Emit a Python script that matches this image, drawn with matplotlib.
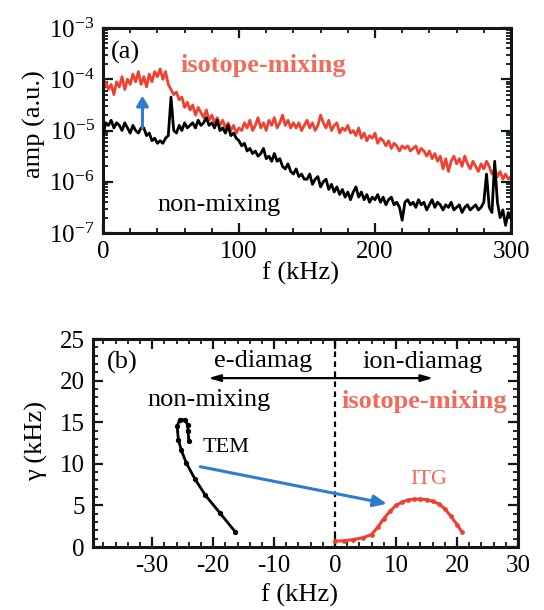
import numpy as np
import matplotlib
matplotlib.use("Agg")
import matplotlib.pyplot as plt
from matplotlib.ticker import MultipleLocator, FixedLocator, FuncFormatter, LogLocator, NullFormatter

plt.rcParams['font.family'] = ['Liberation Serif', 'DejaVu Serif']
plt.rcParams['mathtext.fontset'] = 'custom'
plt.rcParams['mathtext.rm'] = 'Liberation Serif'
plt.rcParams['mathtext.it'] = 'Liberation Serif:italic'
plt.rcParams['axes.unicode_minus'] = False

# ---------------- Panel (a) data: spectra, log10 amplitude, 2 kHz steps ----
freq_a = np.arange(0, 301, 2)
red_log = [
    -4.25, -4.05, -4.20, -4.10, -4.30, -4.05, -4.15, -3.95, -4.20, -4.00, -4.10,
    -3.90, -4.05, -3.85, -4.10, -3.95, -4.15, -3.90, -4.05, -3.85, -3.95,
    -3.80, -4.00, -3.85, -4.10, -4.20, -4.30, -4.25, -4.40, -4.35, -4.55,
    -4.45, -4.60, -4.50, -4.70, -4.55, -4.65, -4.75, -4.60, -4.80, -4.70,
    -4.85, -4.75, -4.90, -4.80, -4.95, -4.85, -5.00, -4.90, -5.05, -4.95,
    -5.00, -4.85, -4.95, -4.80, -5.00, -4.90, -4.75, -4.95, -4.85, -5.00,
    -4.80, -4.90, -4.75, -4.95, -4.85, -4.70, -4.90, -4.80, -4.95, -4.85,
    -4.95, -4.85, -5.00, -4.90, -4.80, -4.95, -4.85, -5.00, -4.90, -4.70,
    -4.85, -4.95, -4.80, -5.00, -4.90, -4.85, -5.05, -4.95, -5.00, -4.90,
    -5.05, -5.00, -5.10, -4.95, -5.15, -5.05, -5.20, -5.10, -5.15, -5.05,
    -5.25, -5.15, -5.20, -5.30, -5.20, -5.35, -5.25, -5.30, -5.40, -5.30,
    -5.35, -5.30, -5.40, -5.35, -5.30, -5.45, -5.35, -5.40, -5.50, -5.40,
    -5.55, -5.45, -5.60, -5.50, -5.75, -5.55, -5.80, -5.60, -5.50, -5.65,
    -5.55, -5.70, -5.50, -5.65, -5.75, -5.60, -5.70, -5.80, -5.65, -5.75,
    -5.60, -5.70, -5.85, -5.75, -5.90, -5.80, -5.95, -5.85, -5.95, -5.90,
]
black_log = [
    -5.10, -4.85, -4.90, -4.80, -4.95, -4.85, -4.90, -5.00, -4.85, -4.95,
    -5.05, -4.90, -5.00, -5.05, -4.95,
    -4.95, -5.10, -5.05, -5.20, -5.15, -5.25, -5.20, -5.25, -5.15, -5.10,
    -4.35, -5.00,
    -5.05, -4.90, -5.00, -4.85, -4.95, -4.90, -4.85, -4.95, -4.80, -4.90,
    -4.85, -4.75, -4.90, -4.85, -4.95, -4.80, -5.00, -4.95, -5.05, -4.90,
    -5.10, -5.05, -5.15,
    -5.20, -5.30, -5.25, -5.40, -5.35, -5.45, -5.40, -5.50, -5.45, -5.35,
    -5.55, -5.50, -5.60, -5.45, -5.60, -5.55, -5.70, -5.75, -5.65, -5.80,
    -5.85, -5.75, -5.90, -5.85, -5.95,
    -5.95, -5.85, -6.05, -5.95, -5.90, -6.10, -6.00, -5.95, -6.15, -6.05,
    -6.20, -6.10, -6.25, -6.15, -6.30, -6.20, -6.35, -6.20, -6.10, -6.30,
    -6.20, -6.35, -6.25, -6.40, -6.30,
    -6.35, -6.25, -6.40, -6.30, -6.45, -6.35, -6.30, -6.45, -6.40, -6.50,
    -6.75, -6.40, -6.35, -6.45, -6.40, -6.50, -6.35, -6.45, -6.40, -6.55,
    -6.45, -6.35, -6.50, -6.40, -6.45,
    -6.55, -6.45, -6.50, -6.40, -6.55, -6.50, -6.45, -6.60, -6.50, -6.45,
    -6.55, -6.50, -6.45, -6.55, -6.50,
    -6.40, -5.85, -6.50, -6.60, -5.60, -6.40, -6.70, -6.55, -6.85, -6.60,
    -6.70,
]
amp_red = 10.0 ** np.array(red_log)
amp_black = 10.0 ** np.array(black_log)

# ---------------- Panel (b) data: growth rate vs real frequency ----------
tem_f = [-16.4, -18.9, -21.3, -23.0, -24.4, -25.2, -25.7, -25.9, -25.5, -24.6, -24.2, -24.1, -24.0]
tem_g = [1.85, 4.1, 6.25, 8.2, 10.1, 11.6, 12.9, 14.5, 15.3, 15.3, 14.7, 13.9, 12.8]
itg_f = [0.0, 1.5, 3.0, 4.5, 6.0, 7.0, 8.0, 9.0, 10.0, 11.0, 12.0, 13.0, 14.0, 15.0, 16.0, 17.0, 18.0, 19.0, 20.0, 20.8]
itg_g = [0.7, 0.75, 0.9, 1.1, 1.5, 2.4, 3.4, 4.3, 5.0, 5.4, 5.65, 5.75, 5.75, 5.7, 5.5, 5.2, 4.6, 3.7, 2.7, 1.8]

RED = '#f0402f'
TRED = '#f26a5c'
BLUE = '#2f7bd0'
SPINE = '#101818'
FS_TICK = 18
FS_TXT = 19

fig = plt.figure(figsize=(5.44, 6.10), dpi=100)

def style(ax):
    for s in ax.spines.values():
        s.set_linewidth(2.2)
        s.set_color(SPINE)
    ax.tick_params(which='both', direction='in', top=True, right=True,
                   color=SPINE, labelsize=FS_TICK)
    ax.tick_params(which='major', length=7, width=1.6, pad=6)
    ax.tick_params(which='minor', length=3.5, width=1.3)

# ---- (a)
axa = fig.add_axes([103/544, 1-233/610, 408/544, 205/610])
axa.plot(freq_a, amp_red, color=RED, lw=2.0, zorder=2)
axa.plot(freq_a, amp_black, color='black', lw=2.0, zorder=3)
axa.set_yscale('log')
axa.set_xlim(0, 300)
axa.set_ylim(1e-7, 1e-3)
axa.xaxis.set_major_locator(MultipleLocator(100))
axa.xaxis.set_minor_locator(MultipleLocator(20))
axa.yaxis.set_major_locator(LogLocator(base=10, numticks=10))
axa.yaxis.set_minor_locator(LogLocator(base=10, subs=np.arange(2, 10), numticks=20))
axa.yaxis.set_minor_formatter(NullFormatter())
axa.yaxis.set_major_formatter(FuncFormatter(lambda v, p: r'$10^{%d}$' % int(round(np.log10(v)))))
style(axa)
axa.set_xlabel('f (kHz)', fontsize=FS_TXT)
axa.set_ylabel('amp (a.u.)', fontsize=FS_TXT)
axa.xaxis.set_label_coords(0.483, -0.14)
axa.yaxis.set_label_coords(-0.14, 0.53)
axa.text(16.7, 10**-3.48, '(a)', fontsize=FS_TXT, ha='center', va='center')
axa.text(118, 10**-3.74, 'isotope-mixing', fontsize=FS_TXT, color=TRED,
         ha='center', va='center', fontweight='bold')
axa.text(85.5, 10**-6.45, 'non-mixing', fontsize=FS_TXT, ha='center', va='center')
axa.annotate('', xy=(29, 10**-4.32), xytext=(29, 10**-4.95),
             arrowprops=dict(arrowstyle='-|>,head_width=0.35,head_length=0.6',
                             color=BLUE, lw=2.2, shrinkA=0, shrinkB=0), zorder=4)

# ---- (b)
axb = fig.add_axes([93/544, 1-547/610, 425/544, 208/610])
axb.plot(tem_f, tem_g, color='black', lw=2.0, marker='o', ms=2.8, zorder=3)
axb.plot(itg_f, itg_g, color=RED, lw=2.2, marker='o', ms=2.4, zorder=3)
axb.axvline(0, color='black', lw=1.6, ls=(0, (2.5, 2)), zorder=2)
axb.set_xlim(-39.7, 30)
axb.set_ylim(0, 25)
axb.xaxis.set_major_locator(FixedLocator([-30, -20, -10, 0, 10, 20, 30]))
axb.xaxis.set_minor_locator(MultipleLocator(2))
axb.yaxis.set_major_locator(MultipleLocator(5))
axb.yaxis.set_minor_locator(MultipleLocator(1))
style(axb)
axb.set_xlabel('f (kHz)', fontsize=FS_TXT)
axb.set_ylabel('\u03b3 (kHz)', fontsize=FS_TXT)
axb.xaxis.set_label_coords(0.487, -0.175)
axb.yaxis.set_label_coords(-0.105, 0.51)
axb.text(-34.9, 22.2, '(b)', fontsize=FS_TXT, ha='center', va='center')
axb.text(-11.8, 22.4, 'e-diamag', fontsize=FS_TXT, ha='center', va='center')
axb.text(14.3, 22.2, 'ion-diamag', fontsize=FS_TXT, ha='center', va='center')
axb.text(-20.6, 17.7, 'non-mixing', fontsize=FS_TXT, ha='center', va='center')
axb.text(14.7, 17.5, 'isotope-mixing', fontsize=FS_TXT, color=TRED,
         ha='center', va='center', fontweight='bold')
axb.text(-17.9, 12.0, 'TEM', fontsize=16, ha='center', va='center')
axb.text(15.3, 8.1, 'ITG', fontsize=16, color=TRED, ha='center', va='center')
axb.annotate('', xy=(-20.8, 20.3), xytext=(16.1, 20.3),
             arrowprops=dict(arrowstyle='<|-|>,head_width=0.2,head_length=0.7',
                             color='black', lw=1.6, shrinkA=0, shrinkB=0))
axb.annotate('', xy=(8.5, 5.2), xytext=(-22.1, 9.65),
             arrowprops=dict(arrowstyle='-|>,head_width=0.35,head_length=0.8',
                             color=BLUE, lw=2.2, shrinkA=0, shrinkB=0), zorder=4)

fig.savefig('out.png', dpi=100)
